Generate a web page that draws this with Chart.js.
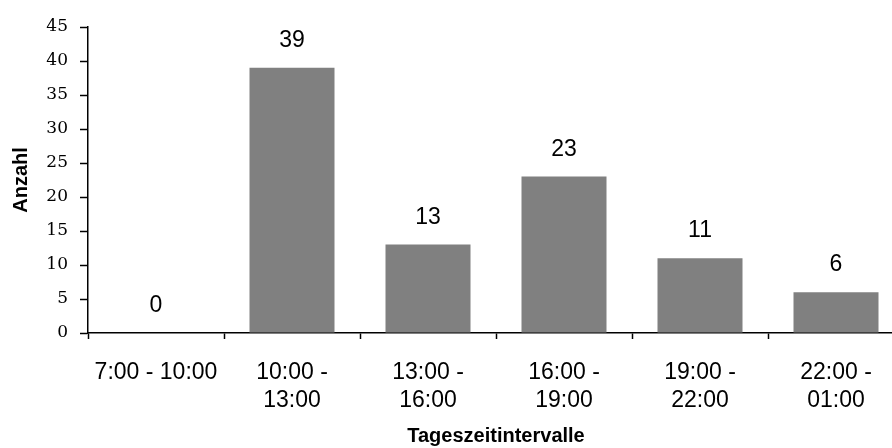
<!DOCTYPE html>
<html>
<head>
<meta charset="utf-8">
<script src="https://cdn.jsdelivr.net/npm/chart.js@4/dist/chart.umd.min.js"></script>
<style>
  html, body { margin: 0; padding: 0; background: #fff; overflow: hidden; }
  #wrap { width: 904px; height: 448px; }
</style>
</head>
<body>
<div id="wrap"><canvas id="chart-times" width="904" height="448"></canvas></div>
<script>
// Anzahl pro Tageszeitintervall
const intervals = [
  "7:00 - 10:00",
  ["10:00 -", "13:00"],
  ["13:00 -", "16:00"],
  ["16:00 -", "19:00"],
  ["19:00 -", "22:00"],
  ["22:00 -", "01:00"],
];
const counts = [0, 39, 13, 23, 11, 6];
const yTicks = [0, 5, 10, 15, 20, 25, 30, 35, 40, 45];

const sans = "'Liberation Sans', Arial, sans-serif";
const serif = "'DejaVu Serif', serif";

// value labels above each bar
const valueLabels = {
  id: "valueLabels",
  afterDatasetsDraw(chart) {
    const { ctx } = chart;
    const meta = chart.getDatasetMeta(0);
    ctx.save();
    ctx.font = "23px " + sans;
    ctx.fillStyle = "#000";
    ctx.textAlign = "center";
    ctx.textBaseline = "alphabetic";
    meta.data.forEach((bar, i) => {
      ctx.fillText(String(counts[i]), bar.x, bar.y - 21);
    });
    ctx.restore();
  },
};

new Chart(document.getElementById("chart-times"), {
  type: "bar",
  data: {
    labels: intervals,
    datasets: [
      {
        data: counts,
        backgroundColor: "#808080",
        borderWidth: 0,
        barPercentage: 0.625,
        categoryPercentage: 1,
      },
    ],
  },
  options: {
    responsive: false,
    animation: false,
    layout: { padding: { top: 27, left: 0, right: 0, bottom: 0 } },
    plugins: { legend: { display: false }, tooltip: { enabled: false } },
    scales: {
      x: {
        offset: true,
        grid: {
          offset: true,
          drawOnChartArea: false,
          drawTicks: true,
          tickLength: 6,
          tickColor: "#000",
          tickWidth: 1.5,
        },
        border: { color: "#000", width: 1.5 },
        ticks: {
          color: "#000",
          font: { family: sans, size: 23, lineHeight: 1.2 },
          padding: 20,
          maxRotation: 0,
          autoSkip: false,
        },
        title: {
          display: true,
          text: "Tageszeitintervalle",
          color: "#000",
          font: { family: sans, size: 20, weight: "bold" },
          padding: { top: 0, bottom: 0 },
        },
        afterFit(scale) {
          scale.height = 115;
        },
      },
      y: {
        min: 0,
        max: 45,
        afterBuildTicks(scale) {
          scale.ticks = yTicks.map((v) => ({ value: v }));
        },
        grid: {
          drawOnChartArea: false,
          drawTicks: true,
          tickLength: 8,
          tickColor: "#000",
          tickWidth: 1.5,
        },
        border: { color: "#000", width: 1.5 },
        ticks: {
          color: "#000",
          font: { family: serif, size: 17 },
          padding: 12,
        },
        title: {
          display: true,
          text: "Anzahl",
          color: "#000",
          font: { family: sans, size: 20, weight: "bold" },
          padding: { top: 9, bottom: 0 },
        },
        afterFit(scale) {
          scale.width = 88;
        },
      },
    },
  },
  plugins: [valueLabels],
});
</script>
</body>
</html>
